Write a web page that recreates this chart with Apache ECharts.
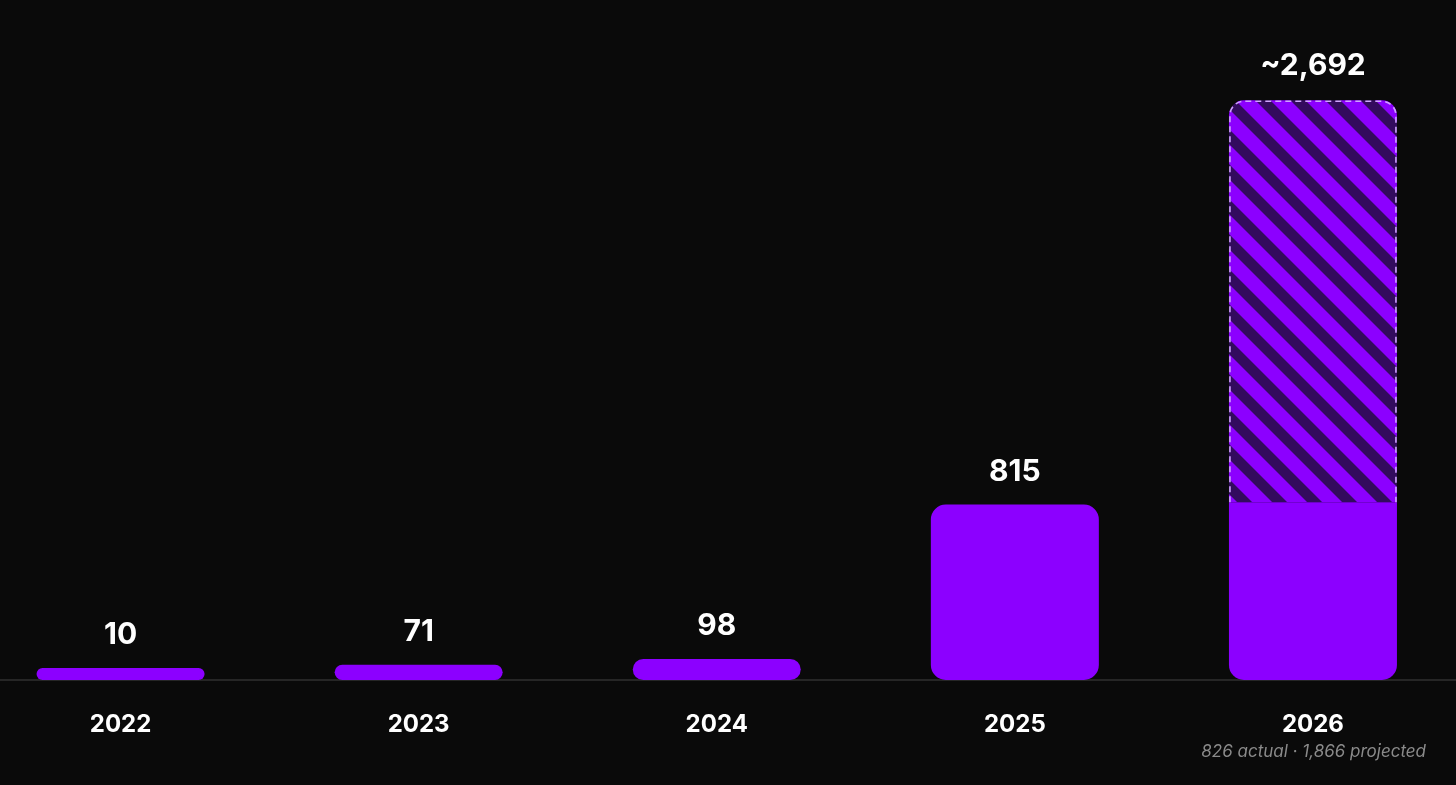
<!DOCTYPE html>
<html>
<head>
<meta charset="utf-8">
<script src="https://cdn.jsdelivr.net/npm/echarts@6/dist/echarts.min.js"></script>
<style>
  html, body { margin: 0; padding: 0; background: #0a0a0a; }
  #chart { width: 1456px; height: 785px; }
</style>
</head>
<body>
<div id="chart"></div>
<script>
// ---- data ----
const years = ['2022', '2023', '2024', '2025', '2026'];
const actual = [10, 71, 98, 815, 826];
const projected = [null, null, null, null, 1866];
const footnote = '826 actual · 1,866 projected';

// ---- style ----
const PURPLE = '#8c00ff';
const DARK = '#330b5e';
const BAR_W = 168;
const R = 15;
const FONT = 'Inter, "Noto Sans", sans-serif';

function stripePattern() {
  const p = 35, w = 15;
  const c = document.createElement('canvas');
  c.width = p; c.height = p;
  const ctx = c.getContext('2d');
  ctx.fillStyle = PURPLE;
  ctx.fillRect(0, 0, p, p);
  ctx.fillStyle = DARK;
  for (const k of [-p, 0, p]) {
    ctx.beginPath();
    ctx.moveTo(k, 0);
    ctx.lineTo(k + w, 0);
    ctx.lineTo(k + w + p, p);
    ctx.lineTo(k + p, p);
    ctx.closePath();
    ctx.fill();
  }
  return c;
}

const fmt = v => v.toLocaleString('en-US');

const actualData = actual.map((v, i) => {
  const hasProj = projected[i] != null;
  return {
    value: v,
    itemStyle: { borderRadius: hasProj ? [0, 0, R, R] : R },
    label: { show: !hasProj }
  };
});
const projData = projected.map((v, i) => v == null ? null : {
  value: v,
  label: { show: true, formatter: '~' + fmt(actual[i] + v) }
});
const outlineData = projected
  .map((v, i) => v == null ? null : [i, actual[i], actual[i] + v])
  .filter(d => d);

const chart = echarts.init(document.getElementById('chart'));
chart.setOption({
  backgroundColor: '#0a0a0a',
  animation: false,
  grid: { left: -28.5, right: -6, top: 34, bottom: 105, outerBoundsMode: 'none', containLabel: false },
  xAxis: {
    type: 'category',
    data: years,
    axisTick: { show: false },
    axisLine: { show: true, lineStyle: { color: '#262626', width: 2 } },
    axisLabel: {
      color: '#ffffff', fontSize: 24, fontWeight: 700, fontFamily: FONT,
      margin: 33, lineHeight: 24
    }
  },
  yAxis: {
    type: 'value', min: 0, max: 3000,
    show: false,
    splitLine: { show: false }
  },
  series: [
    {
      name: 'actual',
      type: 'bar',
      stack: 'total',
      barWidth: BAR_W,
      barMinHeight: 12,
      z: 3,
      itemStyle: { color: PURPLE },
      label: {
        show: true, position: 'top', distance: 18,
        color: '#ffffff', fontSize: 30, fontWeight: 700, fontFamily: FONT,
        lineHeight: 30,
        formatter: p => fmt(p.value)
      },
      data: actualData
    },
    {
      name: 'projected',
      type: 'bar',
      stack: 'total',
      barWidth: BAR_W,
      z: 2,
      itemStyle: {
        color: { image: stripePattern(), repeat: 'repeat' },
        borderRadius: [R, R, 0, 0]
      },
      label: {
        show: true, position: 'top', distance: 19,
        color: '#ffffff', fontSize: 30, fontWeight: 700, fontFamily: FONT,
        lineHeight: 30
      },
      data: projData
    },
    {
      name: 'outline',
      type: 'custom',
      z: 6,
      silent: true,
      encode: { x: 0, y: [1, 2] },
      data: outlineData,
      renderItem: (params, api) => {
        const base = api.coord([api.value(0), api.value(1)]);
        const top = api.coord([api.value(0), api.value(2)]);
        const x0 = base[0] - BAR_W / 2 + 1;
        const x1 = base[0] + BAR_W / 2 - 1;
        const yt = top[1] + 1;
        const yb = base[1];
        const r = R - 1;
        return {
          type: 'path',
          shape: {
            pathData: `M${x0},${yb} L${x0},${yt + r} A${r},${r} 0 0 1 ${x0 + r},${yt} L${x1 - r},${yt} A${r},${r} 0 0 1 ${x1},${yt + r} L${x1},${yb}`
          },
          style: { fill: null, stroke: '#cfa3ff', lineWidth: 1.6, lineDash: [6, 4] }
        };
      }
    }
  ],
  graphic: [
    {
      type: 'text',
      right: 30,
      top: 743,
      style: {
        text: footnote,
        fill: '#8a8a8a',
        font: 'italic 400 17px ' + FONT
      }
    }
  ]
});
</script>
</body>
</html>
